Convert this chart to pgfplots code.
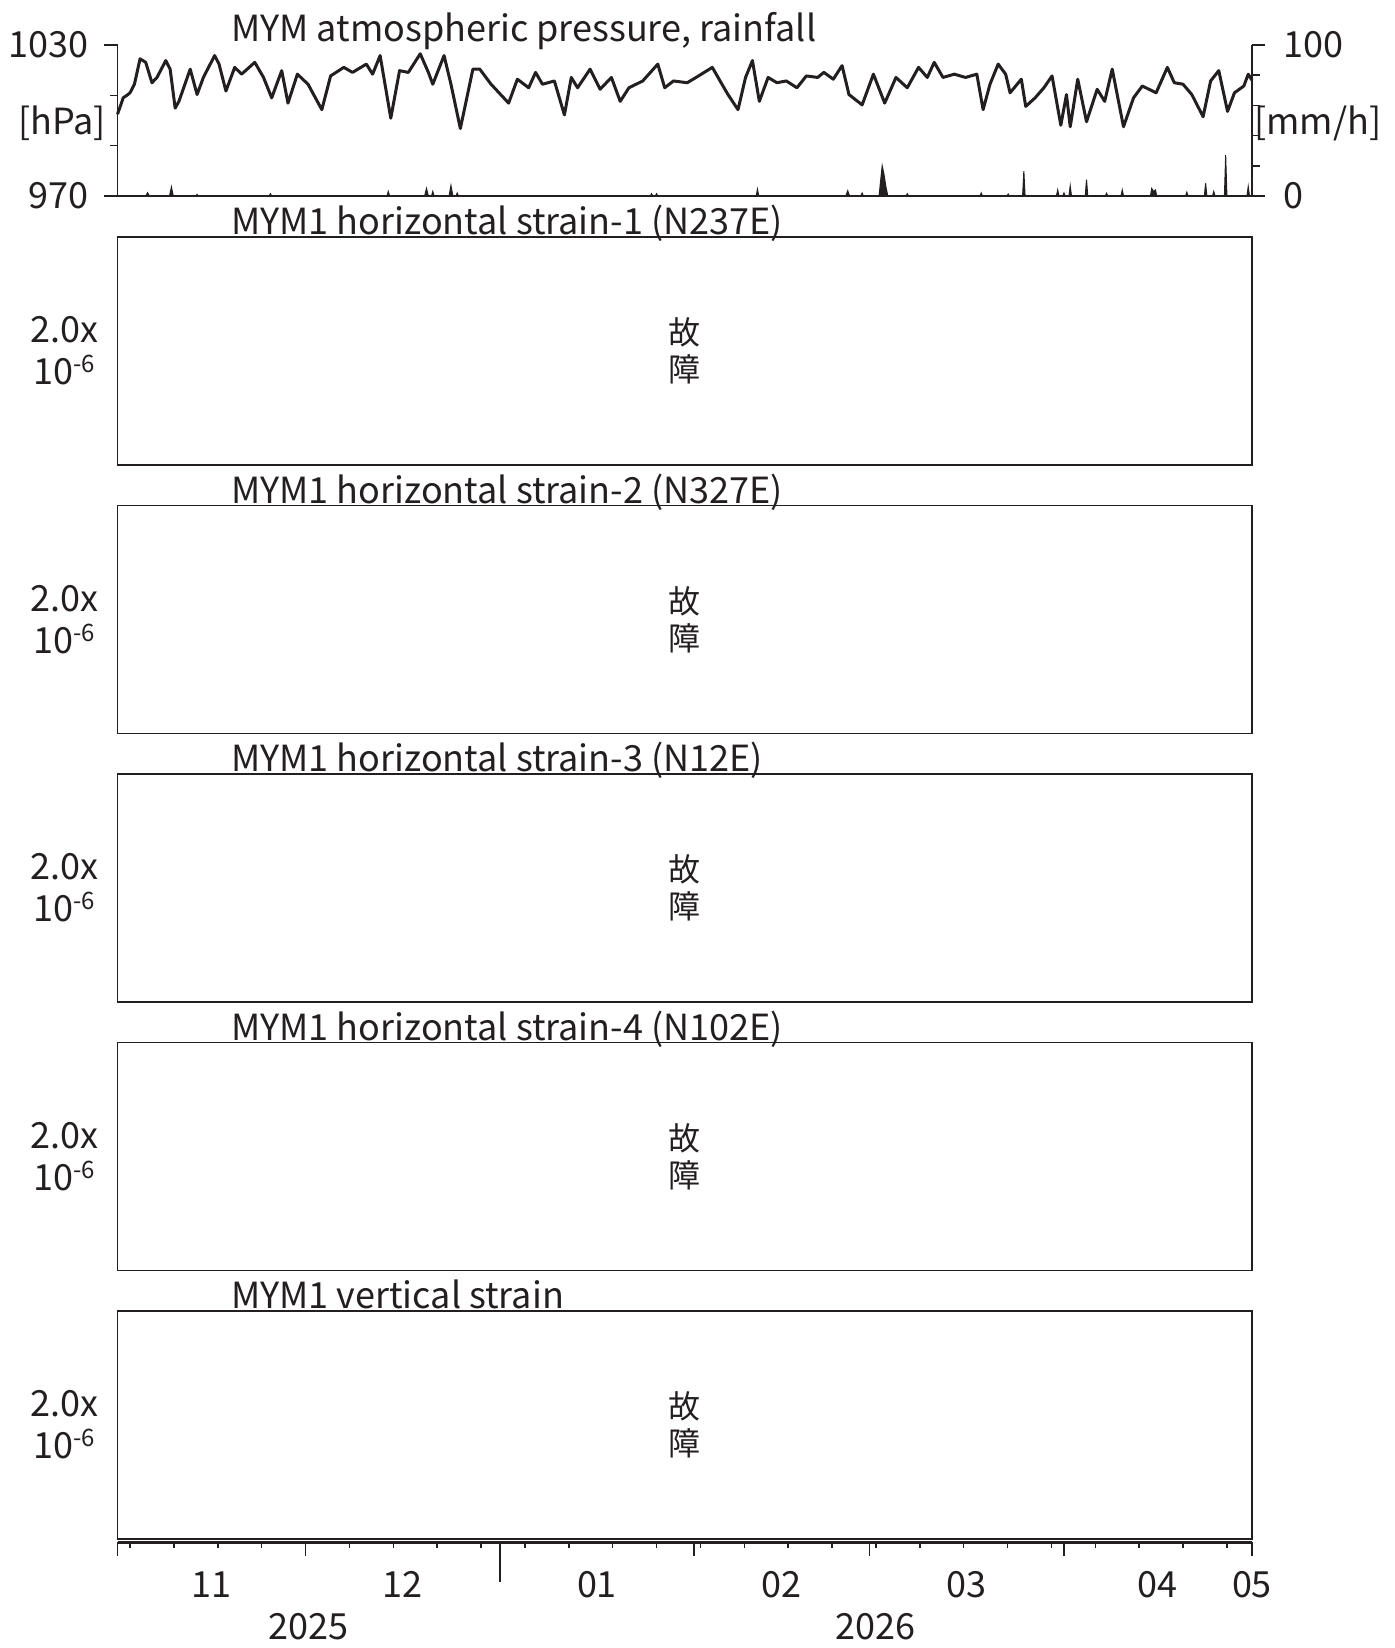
\documentclass[border=0pt]{standalone}
\usepackage{fontspec}
\setmainfont{Noto Sans CJK JP}
\usepackage{pgfplots}
\pgfplotsset{compat=1.18}
\definecolor{ink}{RGB}{35,31,32}
\newcommand{\bigfont}{\fontsize{36}{42}\selectfont}
\newcommand{\kanjifont}{\fontsize{32}{37}\selectfont}
\newcommand{\scalelabel}{2.0x\\10{\fontsize{24}{24}\selectfont\raisebox{12pt}{-6}}}

\pgfplotsset{
  strainpanel/.style={
    scale only axis, width=1134.5pt, height=228pt,
    anchor=south west,
    xmin=0, xmax=181, ymin=0, ymax=1,
    xtick=\empty, ytick=\empty,
    axis line style={line width=1.8pt, draw=ink},
    title style={at={(0.1,1)}, anchor=base west, yshift=-4pt, font=\bigfont, text=ink, inner sep=0pt},
    clip=false,
  },
}

\begin{document}
\begin{tikzpicture}
\useasboundingbox (0,0) rectangle (1394pt,1648pt);

% ---------- rainfall (right axis) ----------
\begin{axis}[
  scale only axis, width=1134.5pt, height=151pt,
  at={(117.5pt,1452pt)}, anchor=south west,
  xmin=0, xmax=181, ymin=0, ymax=100,
  axis x line=none, axis y line*=right,
  ytick={0,100}, yticklabels={0,100},
  minor ytick={20,40,60,80},
  tick align=outside, major tick length=13pt, minor tick length=8pt,
  tick style={line width=1.5pt, draw=ink},
  axis line style={line width=1.8pt, draw=ink, -},
  yticklabel style={font=\bigfont, text=ink, anchor=west, inner sep=0pt, xshift=18pt},
  clip=false,
]
\addplot[fill=ink, draw=ink, line width=1pt] coordinates {
(0,0) (4.5,0) (4.8,2.2) (5.1,0) (8.3,0) (8.6,6) (8.9,0) (12.5,0) (12.7,1) (12.9,0)
(24.2,0) (24.4,1.5) (24.6,0) (43.0,0) (43.2,3) (43.4,0) (49.0,0) (49.3,5) (49.6,0)
(50.1,0) (50.3,3) (50.5,0) (52.9,0) (53.2,7) (53.5,0) (54.0,0) (54.2,2) (54.4,0)
(85.0,0) (85.2,1.5) (85.4,0) (85.8,0) (86.0,1.5) (86.2,0) (101.9,0) (102.1,4.5) (102.3,0)
(116.2,0) (116.5,3.5) (116.8,0) (118.6,0) (118.8,2) (119.0,0)
(121.5,0) (121.8,12) (122.0,20) (122.3,14) (122.6,6) (122.9,0)
(125.8,0) (126.0,1.5) (126.2,0) (137.6,0) (137.8,2) (138.0,0) (141.9,0) (142.1,1.3) (142.3,0)
(144.4,0) (144.6,16.4) (144.8,0) (149.8,0) (150.0,4) (150.2,0) (150.8,0) (151.0,2) (151.2,0)
(151.8,0) (152.0,6.7) (152.2,0) (154.4,0) (154.6,10.8) (154.8,0) (157.6,0) (157.8,1.8) (158.0,0)
(160.1,0) (160.3,4) (160.5,0) (164.8,0) (165.0,5) (165.3,3) (165.6,4) (165.8,0)
(170.4,0) (170.6,2.5) (170.8,0) (173.4,0) (173.6,8.5) (173.8,0) (174.7,0) (174.9,3) (175.1,0)
(176.6,0) (176.8,27) (177.0,0) (180.2,0) (180.4,6.3) (180.6,0) (181,0)
} \closedcycle;
\node[anchor=west, font=\bigfont, text=ink, inner sep=0pt] at (rel axis cs:1.0018,0.483) {[mm/h]};
\end{axis}

% ---------- atmospheric pressure (left axis) ----------
\begin{axis}[
  scale only axis, width=1134.5pt, height=151pt,
  at={(117.5pt,1452pt)}, anchor=south west,
  xmin=0, xmax=181, ymin=970, ymax=1030,
  axis x line*=bottom, axis y line*=left,
  xtick=\empty,
  ytick={970,1030}, yticklabels={970,1030},
  minor ytick={990,1010},
  tick align=outside, major tick length=13pt, minor tick length=7pt,
  tick style={line width=1.5pt, draw=ink},
  axis line style={line width=1.8pt, draw=ink, -},
  yticklabel style={font=\bigfont, text=ink, anchor=east, inner sep=0pt, xshift=-16pt},
  title={MYM atmospheric pressure, rainfall},
  title style={at={(0.1,1)}, anchor=base west, yshift=-3pt, font=\bigfont, text=ink, inner sep=0pt},
  clip=false,
]
\addplot[draw=ink, line width=3pt, line join=round] coordinates {
(0.0,1002.5) (0.5,1006) (0.9,1009.0) (1.5,1010) (2.0,1011.0) (2.7,1014.4) (3.2,1020) (3.6,1024.5)
(4.5,1023.1) (5.5,1015.0) (6.3,1017.1) (7.7,1023.8) (8.4,1020.4) (9.2,1004.9) (9.8,1007.6)
(11.6,1020.4) (12.7,1010.3) (13.7,1017.1) (15.5,1025.8) (16.2,1022.4) (17.3,1011.7) (18.7,1021.1)
(19.8,1018.4) (21.9,1023.1) (23.3,1017.1) (24.6,1009.0) (26.2,1019.8) (27.2,1006.9) (28.7,1018.4)
(30.4,1014.4) (32.6,1004.3) (34.0,1017.7) (36.1,1021.1) (37.5,1019.1) (39.7,1022.4) (40.7,1018.4)
(41.9,1025.8) (43.6,1000.9) (45.0,1019.8) (46.4,1019.1) (48.3,1026.5) (49.6,1019.1) (50.3,1014.4)
(52.1,1025.8) (53.2,1014.4) (54.7,996.8) (56.7,1020.4) (57.8,1020.4) (59.6,1014.4) (62.4,1006.9)
(63.8,1016.4) (65.6,1013.0) (66.7,1019.1) (67.8,1014.4) (69.7,1015.7) (71.3,1002.2) (72.4,1017.1)
(73.4,1013.0) (75.4,1020.4) (77.0,1012.4) (78.8,1017.1) (80.2,1007.6) (81.6,1013.0) (83.8,1015.7)
(86.2,1022.4) (87.3,1013.0) (88.7,1015.7) (90.9,1015.0) (92.7,1017.7) (94.9,1021.1) (96.3,1015.0)
(97.4,1010.3) (99.0,1004.3) (100.2,1017.1) (101.3,1023.8) (102.4,1007.6) (103.8,1017.1) (105.2,1015.0)
(106.7,1015.7) (108.4,1013.0) (109.9,1017.7) (111.7,1017.1) (112.7,1019.1) (114.2,1016.4) (115.6,1021.8)
(116.7,1010.3) (118.8,1006.2) (120.6,1018.4) (122.4,1006.9) (124.2,1017.1) (126.0,1013.0) (127.8,1021.1)
(129.2,1017.1) (130.3,1023.1) (131.7,1017.1) (133.5,1018.4) (135.3,1017.1) (137.1,1018.4) (138.1,1004.3)
(139.2,1014.4) (140.5,1022.4) (141.7,1018.4) (142.4,1011.0) (144.2,1016.4) (144.9,1005.6) (146.4,1009.0)
(147.8,1013.0) (149.1,1017.7) (150.5,998.1) (151.4,1010.3) (152.0,997.5) (153.2,1016.4) (154.6,999.5)
(156.3,1012.4) (157.5,1007.6) (158.7,1020.4) (160.5,997.5) (162.1,1009.0) (163.5,1013.7) (165.7,1011.0)
(167.5,1021.1) (168.6,1015.0) (170.0,1014.4) (171.4,1010.3) (173.2,1001.5) (174.4,1015.7) (175.7,1019.8)
(177.1,1003.6) (178.2,1011.0) (179.7,1013.7) (180.4,1018.4) (181.0,1016)
};
\node[anchor=east, font=\bigfont, text=ink, inner sep=0pt] at (rel axis cs:-0.0101,0.483) {[hPa]};
\end{axis}

% ---------- strain panels ----------
\begin{axis}[strainpanel, at={(117.5pt,1183pt)}, title={MYM1 horizontal strain-1 (N237E)}]
\node[align=center, font=\kanjifont, text=ink] at (rel axis cs:0.5,0.5) {故\\障};
\node[align=center, font=\bigfont, text=ink] at (rel axis cs:-0.047,0.5) {\scalelabel};
\end{axis}
\begin{axis}[strainpanel, at={(117.5pt,914.5pt)}, title={MYM1 horizontal strain-2 (N327E)}]
\node[align=center, font=\kanjifont, text=ink] at (rel axis cs:0.5,0.5) {故\\障};
\node[align=center, font=\bigfont, text=ink] at (rel axis cs:-0.047,0.5) {\scalelabel};
\end{axis}
\begin{axis}[strainpanel, at={(117.5pt,646pt)}, title={MYM1 horizontal strain-3 (N12E)}]
\node[align=center, font=\kanjifont, text=ink] at (rel axis cs:0.5,0.5) {故\\障};
\node[align=center, font=\bigfont, text=ink] at (rel axis cs:-0.047,0.5) {\scalelabel};
\end{axis}
\begin{axis}[strainpanel, at={(117.5pt,377.5pt)}, title={MYM1 horizontal strain-4 (N102E)}]
\node[align=center, font=\kanjifont, text=ink] at (rel axis cs:0.5,0.5) {故\\障};
\node[align=center, font=\bigfont, text=ink] at (rel axis cs:-0.047,0.5) {\scalelabel};
\end{axis}
\begin{axis}[strainpanel, at={(117.5pt,109pt)}, title={MYM1 vertical strain}]
\node[align=center, font=\kanjifont, text=ink] at (rel axis cs:0.5,0.5) {故\\障};
\node[align=center, font=\bigfont, text=ink] at (rel axis cs:-0.047,0.5) {\scalelabel};
\end{axis}

% ---------- time axis ----------
\begin{axis}[
  scale only axis, width=1134.5pt, height=20pt,
  at={(117.5pt,105.7pt)}, anchor=south west,
  xmin=0, xmax=181, ymin=0, ymax=1,
  axis x line*=bottom, axis y line=none,
  axis line style={line width=3pt, draw=ink, -},
  xtick={0,30,61,92,120,151,181}, xticklabels={},
  minor xtick={2,9,...,177},
  tick align=outside, major tick length=14pt, minor tick length=6pt,
  tick style={line width=1.5pt, draw=ink},
  extra x ticks={15,45.5,76.5,106,135.5,166,181},
  extra x tick labels={11,12,01,02,03,04,05},
  extra x tick style={major tick length=0pt, tick style={draw=none}},
  xticklabel style={font=\bigfont, text=ink, anchor=base, inner sep=0pt, yshift=-55pt},
  clip=false,
]
\draw[line width=1.5pt, draw=ink] (axis cs:61,0) -- ([yshift=-40pt]axis cs:61,0);
\node[font=\bigfont, text=ink, anchor=base, inner sep=0pt, yshift=-97pt] at (axis cs:30.5,0) {2025};
\node[font=\bigfont, text=ink, anchor=base, inner sep=0pt, yshift=-97pt] at (axis cs:121,0) {2026};
\end{axis}
\end{tikzpicture}
\end{document}
